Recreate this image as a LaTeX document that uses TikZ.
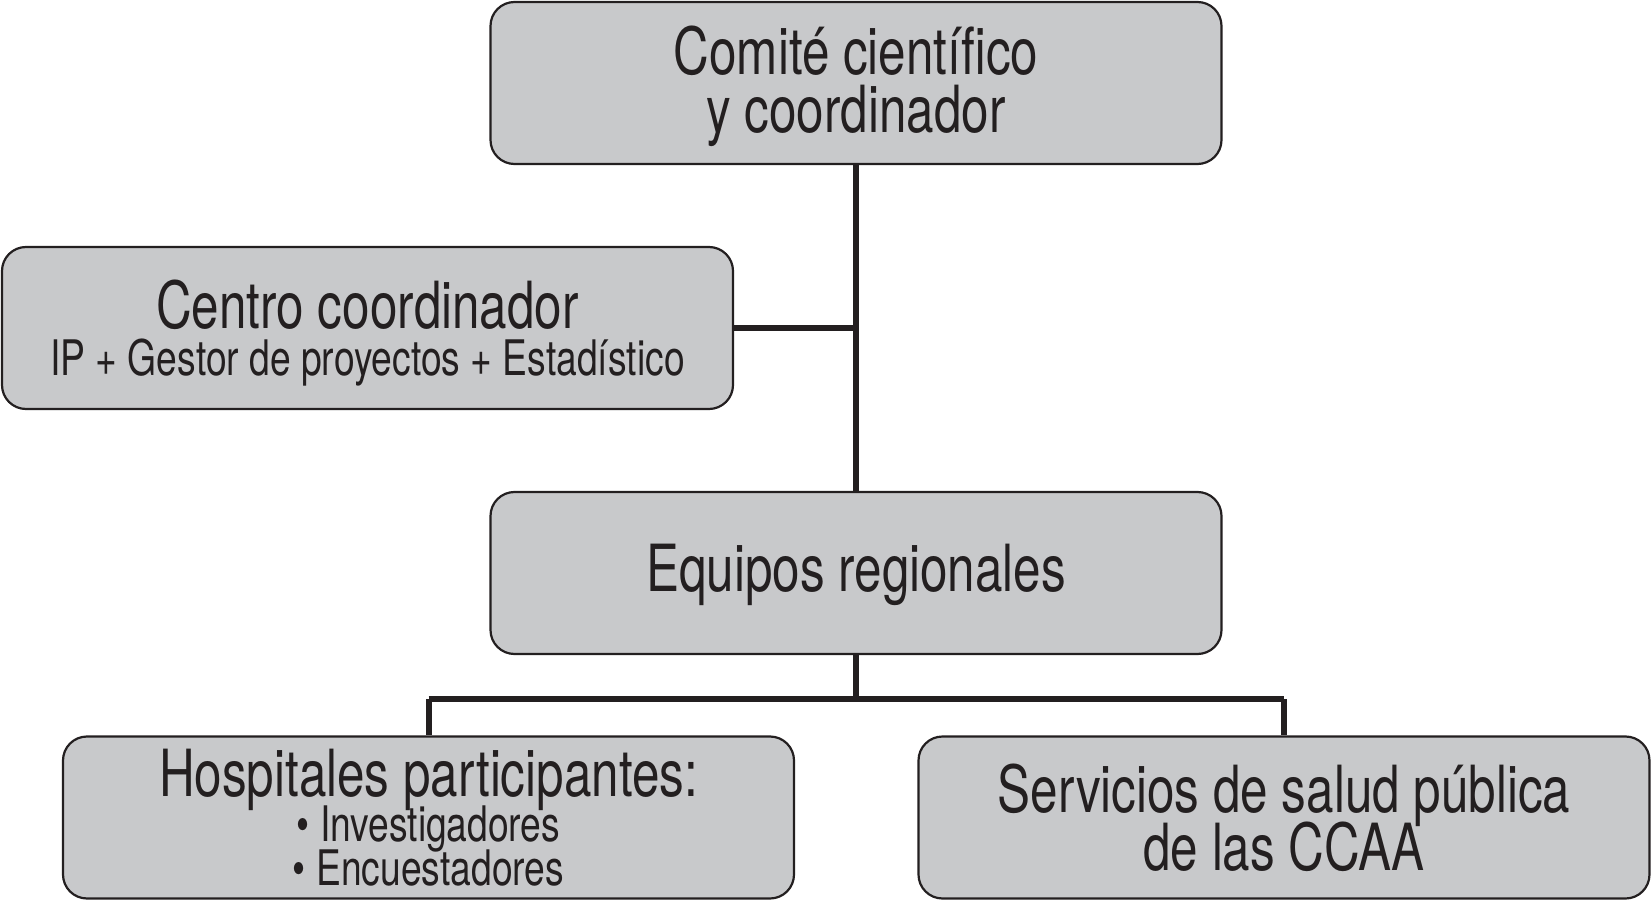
\documentclass[tikz,border=0pt]{standalone}
\usepackage{fontspec}
\setmainfont{TeX Gyre Heros}[FakeStretch=0.76]
\definecolor{boxfill}{HTML}{C8C9CB}
\definecolor{ink}{HTML}{231F20}
\newcommand{\mainsz}{\fontsize{65}{58}\selectfont}
\newcommand{\subsz}{\fontsize{49}{44}\selectfont}
\newcommand{\lift}[1]{\rule{0pt}{#1}}
\tikzset{
  orgbox/.style={draw=ink, fill=boxfill, line width=2.2pt, rounded corners=24pt,
    minimum width=731pt, minimum height=162pt, align=center, text=ink, inner sep=0pt,
    font=\mainsz},
  link/.style={draw=ink, line width=6pt}
}
\begin{document}
\lineskiplimit=-200pt\relax
\begin{tikzpicture}[x=1pt,y=-1pt]
\useasboundingbox (0,0) rectangle (1652,901);
\node[orgbox] (top) at (856,83) {\lift{56pt}Comité científico\\y coordinador};
\node[orgbox] (centro) at (367.5,328) {\lift{58pt}Centro coordinador\\[-11pt]{\subsz IP + Gestor de proyectos + Estadístico}};
\node[orgbox] (equipos) at (856,573) {\lift{51pt}Equipos regionales};
\node[orgbox] (hosp) at (428.5,817.5) {Hospitales participantes:\\[-13pt]{\subsz • Investigadores}\\[-14pt]{\subsz • Encuestadores}};
\node[orgbox] (serv) at (1284,817.5) {Servicios de salud pública\\de las CCAA};
\coordinate (split) at (856,699);
\coordinate (hl) at (428.5,699);
\coordinate (hr) at (1284,699);
\draw[link] (top.south) -- (equipos.north);
\draw[link] (centro.east) -- (centro.east -| top.south);
\draw[link] (equipos.south) -- (split);
\draw[link] (hl) -- (hr);
\draw[link] (hl) -- (hosp.north);
\draw[link] (hr) -- (serv.north);
\end{tikzpicture}
\end{document}
